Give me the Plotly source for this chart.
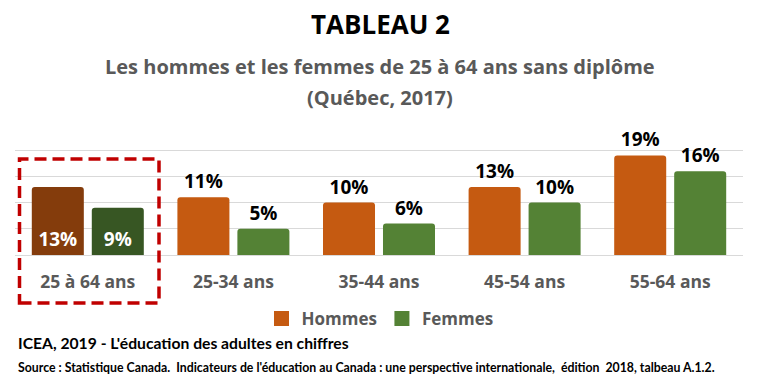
import plotly.graph_objects as go

categories = ["25 à 64 ans", "25-34 ans", "35-44 ans", "45-54 ans", "55-64 ans"]
hommes = [13, 11, 10, 13, 19]
femmes = [9, 5, 6, 10, 16]
series_names = ["Hommes", "Femmes"]

ORANGE = "#C55A11"
GREEN = "#548235"
ORANGE_DARK = "#843C0C"
GREEN_DARK = "#375623"
GRAY = "#595959"
FONT = "Open Sans"
NARROW = "Lato"

W, H = 757, 380
L, R, T, B = 15, 14, 124, 125
PH = H - T - B


def py(p):
    return (H - B - p) / PH


def px(p):
    return (p - L) / (W - L - R)


def colors(base, dark, n):
    return [dark] + [base] * (n - 1)


def positions(n):
    return ["inside"] + ["outside"] * (n - 1)


fig = go.Figure()
for name, vals, base, dark in [
    (series_names[0], hommes, ORANGE, ORANGE_DARK),
    (series_names[1], femmes, GREEN, GREEN_DARK),
]:
    fig.add_trace(go.Bar(
        x=categories, y=vals, name=name, showlegend=False,
        marker=dict(color=colors(base, dark, len(vals)), line=dict(width=0)),
        texttemplate="%{y}%", textposition=positions(len(vals)),
        insidetextanchor="start", textangle=0, constraintext="none",
        insidetextfont=dict(family=FONT, size=19, color="white", weight="bold"),
        outsidetextfont=dict(family=FONT, size=19, color="black", weight="bold"),
        cliponaxis=False, hoverinfo="skip",
    ))

for name, c in [(series_names[0], ORANGE), (series_names[1], GREEN)]:
    fig.add_trace(go.Scatter(
        x=[None], y=[None], mode="markers", name=name,
        marker=dict(symbol="square", size=15, color=c), showlegend=True,
    ))

fig.update_layout(
    width=W, height=H,
    margin=dict(l=L, r=R, t=T, b=B, autoexpand=False),
    paper_bgcolor="white", plot_bgcolor="white",
    barmode="group", bargap=0.176, bargroupgap=0.133, barcornerradius=3,
    showlegend=True,
    legend=dict(orientation="h", x=px(380), xanchor="center", y=py(319), yanchor="middle",
                font=dict(family=FONT, size=17, color=GRAY, weight="bold"),
                itemwidth=30, bgcolor="rgba(0,0,0,0)", tracegroupgap=0),
    xaxis=dict(showgrid=False, showline=False, zeroline=False, ticks="",
               tickfont=dict(family=FONT, size=17.5, color=GRAY, weight="bold"),
               ticklabelstandoff=14, fixedrange=True, automargin=False),
    yaxis=dict(range=[0, 25], dtick=5, showgrid=True, gridcolor="#D9D9D9", gridwidth=1,
               zeroline=True, zerolinecolor="#D9D9D9", zerolinewidth=1,
               showticklabels=False, ticks="", fixedrange=True, automargin=False),
    font=dict(family=FONT),
)

annots = [
    dict(text="TABLEAU 2", x=px(380), y=py(24), size=26, color="black", anchor="center"),
    dict(text="Les hommes et les femmes de 25 à 64 ans sans diplôme", x=px(380), y=py(66), size=20, color=GRAY, anchor="center"),
    dict(text="(Québec, 2017)", x=px(380), y=py(97), size=20, color=GRAY, anchor="center"),
]
for a in annots:
    fig.add_annotation(text=a["text"], x=a["x"], y=a["y"], xref="paper", yref="paper",
                       xanchor=a["anchor"], yanchor="middle", showarrow=False,
                       font=dict(family=FONT, size=a["size"], color=a["color"], weight="bold"))

fig.add_annotation(text="ICEA, 2019 - L'éducation des adultes en chiffres", x=px(16), y=py(343),
                   xref="paper", yref="paper", xanchor="left", yanchor="middle", showarrow=False,
                   font=dict(family=NARROW, size=15.7, color="black", weight="bold"))
fig.add_annotation(text="Source : Statistique Canada.  Indicateurs de l'éducation au Canada : une perspective internationale,  édition  2018, talbeau A.1.2.",
                   x=px(16), y=py(367), xref="paper", yref="paper", xanchor="left", yanchor="middle",
                   showarrow=False, font=dict(family=NARROW, size=12.3, color="black", weight="bold"))

fig.add_shape(type="rect", xref="paper", yref="paper",
              x0=px(19.5), x1=px(159), y0=py(303), y1=py(159),
              line=dict(color="#C00000", width=3.5, dash="12px,6px"), fillcolor="rgba(0,0,0,0)")

fig.write_html("out.html", config={"displayModeBar": False},
               post_script="document.body.style.margin='0';document.body.style.padding='0';")
